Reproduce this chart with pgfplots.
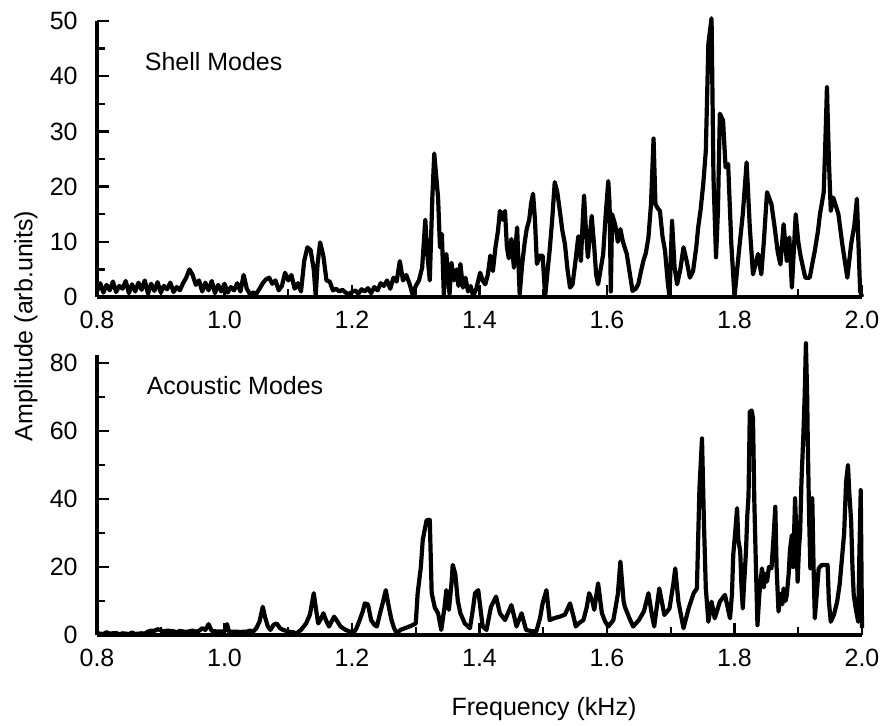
\documentclass[border=0pt]{standalone}
\usepackage{fontspec}
\setmainfont{Liberation Sans}
\usepackage{pgfplots}
\pgfplotsset{compat=1.18}
\pgfplotstableread{
f a
0.800 1.0
0.805 2.5
0.810 0.8
0.815 2.2
0.820 1.2
0.825 2.8
0.830 0.9
0.835 2.0
0.840 1.5
0.845 2.9
0.850 0.7
0.855 2.3
0.860 1.0
0.865 2.6
0.870 1.3
0.875 3.0
0.880 0.6
0.885 2.4
0.890 1.1
0.895 2.7
0.900 0.8
0.905 2.0
0.910 1.4
0.915 2.6
0.920 0.9
0.925 1.8
0.930 1.2
0.935 2.5
0.940 3.5
0.945 5.0
0.950 4.0
0.955 2.2
0.960 3.0
0.965 1.0
0.970 2.6
0.975 1.2
0.980 2.9
0.985 0.7
0.990 2.2
0.995 1.0
1.000 2.4
1.005 0.8
1.010 1.8
1.015 1.2
1.020 2.5
1.025 1.0
1.030 4.0
1.035 1.5
1.040 0.5
1.045 0.8
1.050 0.6
1.055 1.5
1.060 2.5
1.065 3.2
1.070 3.5
1.075 2.4
1.080 3.0
1.085 1.2
1.090 2.0
1.095 4.4
1.100 3.0
1.105 4.0
1.110 1.5
1.115 2.5
1.120 1.0
1.125 6.5
1.130 9.0
1.135 8.5
1.140 5.0
1.143 0.3
1.146 6.0
1.150 9.9
1.155 7.5
1.160 3.0
1.165 2.8
1.170 1.2
1.175 1.5
1.180 1.0
1.185 1.3
1.190 0.8
1.195 0.5
1.200 0.9
1.205 1.2
1.210 0.6
1.215 1.4
1.220 1.0
1.225 1.6
1.230 0.7
1.235 1.8
1.240 1.2
1.245 2.5
1.250 2.0
1.255 3.0
1.260 1.5
1.265 3.5
1.270 2.8
1.275 6.5
1.280 3.0
1.285 4.0
1.290 2.5
1.295 0.5
1.300 2.0
1.305 3.0
1.310 5.3
1.315 14.0
1.318 8.0
1.322 3.0
1.326 18.0
1.329 26.0
1.332 22.0
1.335 18.0
1.338 9.0
1.341 11.4
1.344 0.5
1.348 7.8
1.351 3.5
1.353 0.5
1.356 6.2
1.360 3.0
1.364 5.0
1.367 2.0
1.370 6.0
1.374 1.7
1.378 3.5
1.382 1.0
1.386 2.0
1.390 0.2
1.395 1.5
1.401 4.4
1.405 3.0
1.409 2.3
1.413 4.0
1.417 7.5
1.421 4.7
1.425 9.0
1.429 12.0
1.432 15.6
1.436 14.0
1.440 15.6
1.443 9.0
1.446 7.0
1.450 10.5
1.454 5.3
1.459 12.6
1.463 0.5
1.467 6.0
1.471 10.0
1.474 12.3
1.478 14.0
1.481 17.0
1.484 18.7
1.487 14.0
1.490 6.0
1.495 7.5
1.499 7.5
1.503 0.2
1.507 5.0
1.510 8.4
1.514 14.0
1.518 20.8
1.522 19.0
1.526 15.6
1.530 12.0
1.534 9.6
1.538 5.0
1.542 1.7
1.546 2.3
1.550 6.0
1.555 11.0
1.559 6.5
1.562 14.0
1.564 18.4
1.567 12.0
1.570 7.2
1.573 11.0
1.576 14.7
1.580 9.0
1.583 4.0
1.586 2.3
1.590 5.0
1.594 7.8
1.598 15.0
1.602 21.0
1.604 17.0
1.606 1.0
1.608 15.0
1.613 13.0
1.617 10.0
1.621 12.3
1.625 10.0
1.631 7.8
1.636 4.1
1.640 1.1
1.645 1.5
1.649 2.3
1.653 4.5
1.657 6.5
1.661 8.0
1.665 10.8
1.669 16.8
1.673 28.7
1.676 16.8
1.680 16.0
1.683 15.6
1.687 11.0
1.691 8.4
1.695 3.0
1.698 0.0
1.702 13.8
1.706 5.3
1.710 2.3
1.715 5.0
1.720 9.0
1.725 6.5
1.730 3.5
1.735 4.7
1.740 9.0
1.743 12.6
1.747 16.0
1.751 20.5
1.755 26.5
1.759 45.9
1.764 50.5
1.767 21.7
1.771 7.2
1.774 15.6
1.777 33.2
1.782 32.0
1.786 23.5
1.790 24.1
1.795 9.6
1.800 0.0
1.806 7.2
1.813 15.0
1.819 24.4
1.824 12.6
1.829 4.1
1.833 6.0
1.837 7.8
1.842 4.1
1.846 10.0
1.851 19.0
1.858 16.8
1.863 12.6
1.868 8.0
1.872 5.9
1.877 13.2
1.882 6.5
1.886 10.8
1.890 1.7
1.896 15.0
1.900 10.0
1.904 7.2
1.911 3.5
1.918 3.5
1.922 6.0
1.926 8.4
1.931 12.0
1.934 15.0
1.940 19.0
1.943 30.0
1.945 38.0
1.948 25.0
1.951 15.6
1.955 18.0
1.963 15.0
1.969 9.6
1.977 3.5
1.983 9.6
1.988 13.0
1.992 17.8
1.997 1.1
2.000 0.0
}\shell
\pgfplotstableread{
f a
0.800 0.5
0.810 0.3
0.815 0.8
0.820 0.4
0.830 0.6
0.835 0.2
0.840 0.5
0.850 0.3
0.855 0.7
0.860 0.3
0.870 0.5
0.875 0.4
0.880 1.0
0.885 1.3
0.890 1.2
0.895 1.7
0.900 1.4
0.905 1.0
0.910 1.3
0.920 1.1
0.925 0.8
0.930 1.2
0.940 0.9
0.950 1.3
0.955 1.0
0.960 1.2
0.965 2.0
0.970 1.5
0.975 3.2
0.980 1.2
0.990 1.0
1.000 1.1
1.004 3.2
1.007 1.0
1.015 1.0
1.025 0.9
1.035 1.0
1.040 1.3
1.045 1.0
1.050 2.0
1.055 4.0
1.060 8.3
1.064 5.0
1.068 2.5
1.072 1.5
1.077 3.0
1.082 3.4
1.087 2.0
1.092 1.5
1.100 1.0
1.108 0.8
1.113 0.5
1.120 1.5
1.128 3.4
1.134 6.0
1.140 12.3
1.144 7.0
1.147 3.4
1.152 5.0
1.155 6.4
1.160 4.0
1.164 2.5
1.168 4.0
1.172 5.4
1.177 4.0
1.182 2.5
1.190 1.5
1.197 1.0
1.202 0.5
1.207 2.0
1.212 4.4
1.217 7.0
1.220 9.3
1.225 9.0
1.230 4.4
1.235 3.0
1.239 2.5
1.244 6.4
1.249 10.0
1.253 13.2
1.258 8.0
1.262 4.4
1.266 2.0
1.270 0.5
1.276 1.5
1.283 2.0
1.290 2.5
1.296 3.0
1.300 3.4
1.303 12.3
1.308 20.0
1.311 28.0
1.317 33.8
1.322 33.8
1.325 12.3
1.330 8.0
1.335 6.4
1.340 1.5
1.345 8.0
1.348 13.2
1.352 7.4
1.356 15.0
1.358 20.6
1.362 18.0
1.366 10.0
1.370 6.4
1.377 3.4
1.385 2.0
1.390 8.0
1.393 12.3
1.398 13.2
1.402 7.0
1.405 2.5
1.411 1.5
1.418 8.3
1.426 11.3
1.432 6.4
1.440 4.4
1.446 7.0
1.450 8.8
1.455 5.0
1.458 2.5
1.466 6.4
1.473 1.5
1.480 1.2
1.489 1.0
1.495 5.0
1.499 9.3
1.505 13.2
1.510 4.4
1.518 5.0
1.526 5.4
1.534 6.0
1.542 9.3
1.548 5.0
1.551 2.5
1.556 3.5
1.563 4.4
1.568 8.0
1.572 12.3
1.577 10.0
1.580 7.4
1.586 15.2
1.592 6.4
1.597 4.0
1.602 2.5
1.610 4.4
1.617 12.0
1.621 21.6
1.626 10.0
1.628 8.3
1.635 5.0
1.641 2.5
1.650 4.4
1.658 7.0
1.665 12.3
1.670 6.4
1.674 2.5
1.682 13.7
1.690 5.9
1.698 7.8
1.704 15.0
1.707 19.6
1.712 9.8
1.720 2.0
1.728 7.8
1.736 12.3
1.741 13.7
1.745 43.0
1.749 57.8
1.752 33.3
1.755 13.7
1.759 3.9
1.764 9.8
1.769 4.9
1.777 9.8
1.785 11.8
1.793 4.9
1.796 12.0
1.798 23.5
1.801 30.0
1.804 37.3
1.806 28.0
1.809 24.5
1.811 14.0
1.813 7.8
1.815 15.0
1.818 24.5
1.820 35.0
1.822 41.0
1.824 65.7
1.827 66.0
1.829 63.7
1.831 40.0
1.833 24.5
1.836 2.9
1.839 12.0
1.843 19.6
1.846 14.0
1.848 18.0
1.851 15.7
1.854 20.0
1.858 19.6
1.861 28.0
1.864 37.7
1.866 20.0
1.869 6.9
1.872 12.0
1.875 9.0
1.877 13.7
1.880 10.0
1.882 11.8
1.885 18.0
1.887 25.0
1.890 29.4
1.892 20.0
1.895 40.2
1.897 30.0
1.899 15.7
1.901 25.0
1.903 30.4
1.905 45.0
1.908 58.8
1.910 70.0
1.912 85.8
1.914 70.0
1.915 55.9
1.917 35.0
1.919 19.6
1.921 30.0
1.922 40.2
1.924 20.0
1.926 4.9
1.929 12.0
1.932 19.6
1.937 20.6
1.946 20.6
1.948 10.0
1.951 3.9
1.956 6.0
1.961 9.8
1.965 15.0
1.969 23.5
1.972 30.0
1.975 45.0
1.978 50.0
1.980 42.0
1.983 33.3
1.985 20.0
1.987 11.8
1.990 8.0
1.994 3.9
1.996 25.0
1.998 42.6
2.000 2.0
}\acoustic
\pgfplotsset{
  panel/.style={
    scale only axis,
    width=382.5pt,
    xmin=0.8, xmax=2.0,
    axis x line=bottom, axis y line=left,
    axis line style={-, line width=1.6pt},
    major tick length=6pt, minor tick length=4pt,
    every tick/.style={line width=1.2pt, black},
    xtick={0.8,1.0,...,2.0},
    minor xtick={0.9,1.1,...,1.9},
    xticklabels={0.8,1.0,1.2,1.4,1.6,1.8,2.0},
    clip=false,
    tick label style={font=\fontsize{12.5}{14}\selectfont, inner sep=0pt},
    xticklabel style={yshift=-7pt},
    yticklabel style={xshift=-9.5pt},
    /pgf/number format/assume math mode=true,
  }
}
\begin{document}
\begin{tikzpicture}
\path[use as bounding box] (0,0) rectangle (441pt,362.5pt);
\begin{axis}[panel, tick align=inside, at={(48.5pt,214pt)}, anchor=south west,
  height=138pt, ymin=0, ymax=50,
  ytick={0,10,...,50}, minor ytick={5,15,...,45}]
\addplot[black, line width=2.1pt, line join=round] table[x=f,y=a] {\shell};
\node[anchor=west, font=\fontsize{12.5}{14}\selectfont] at (axis cs:0.864,42.6) {Shell Modes};
\end{axis}
\begin{axis}[panel, tick align=inside, at={(48.5pt,45pt)}, anchor=south west,
  height=140pt, ymin=0, ymax=82.35,
  ytick={0,20,...,80}, minor ytick={10,30,...,70}]
\addplot[black, line width=2.1pt, line join=round] table[x=f,y=a] {\acoustic};
\node[anchor=west, font=\fontsize{12.5}{14}\selectfont] at (axis cs:0.867,73.5) {Acoustic Modes};
\end{axis}
\node[rotate=90, font=\fontsize{12.5}{14}\selectfont] at (13pt,199.5pt) {Amplitude (arb.units)};
\node[font=\fontsize{12.5}{14}\selectfont] at (272pt,8pt) {Frequency (kHz)};
\end{tikzpicture}
\end{document}
